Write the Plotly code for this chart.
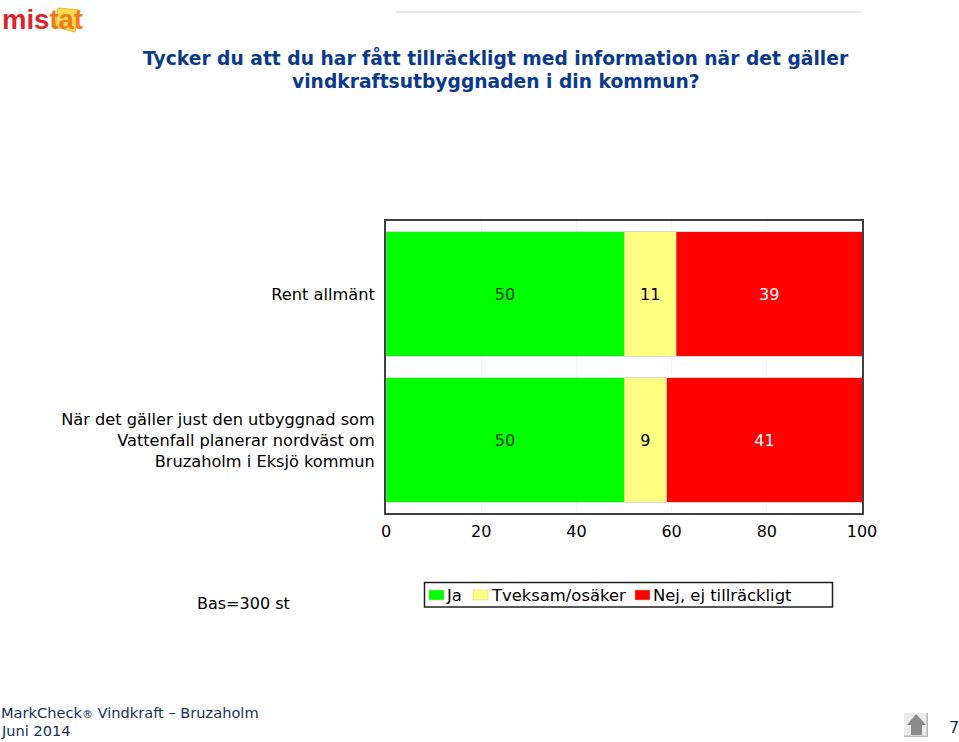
import plotly.graph_objects as go

categories = ["Rent allmänt",
              "När det gäller just den utbyggnad som<br>Vattenfall planerar nordväst om<br>Bruzaholm i Eksjö kommun"]
ja = [50, 50]
tveksam = [11, 9]
nej = [39, 41]
series_names = ["Ja", "Tveksam/osäker", "Nej, ej tillräckligt"]
series_colors = ["#00ff00", "#ffff80", "#ff0000"]
label_colors = ["#0b3d0b", "#000000", "#ffffff"]
tick_vals = [0, 20, 40, 60, 80, 100]
title_lines = ["Tycker du att du har fått tillräckligt med information när det gäller",
               "vindkraftsutbyggnaden i din kommun?"]

W, H = 959, 742
L, R, T, B = 386, 862, 221, 513   # plot-area edges in pixels
FONT = "DejaVu Sans, Verdana, sans-serif"
NAVY = "#16305c"
TITLE = "#0b3a8c"
FS = 16.2
def px(x): return (x - L) / (R - L)
def py(y): return 1 - (y - T) / (B - T)

fig = go.Figure()
for name, vals, col, tc in zip(series_names, [ja, tveksam, nej], series_colors, label_colors):
    fig.add_bar(y=categories, x=vals, name=name, orientation="h",
                marker=dict(color=col, line=dict(color="#b8b8b8", width=0.5)),
                text=vals, textposition="inside", insidetextanchor="middle",
                textangle=0, textfont=dict(size=16, color=tc, family=FONT),
                hoverinfo="skip", showlegend=False)

anns = [
    dict(x=px(496), y=py(58), text=f"<b>{title_lines[0]}</b>", xanchor="center", yanchor="middle",
         font=dict(size=18.7, color=TITLE)),
    dict(x=px(496), y=py(81), text=f"<b>{title_lines[1]}</b>", xanchor="center", yanchor="middle",
         font=dict(size=18.7, color=TITLE)),
    dict(x=px(197), y=py(603), text="Bas=300 st", xanchor="left", yanchor="middle",
         font=dict(size=16, color="#000")),
    dict(x=px(1), y=py(712), text="MarkCheck<span style='font-size:11px'>®</span> Vindkraft – Bruzaholm",
         xanchor="left", yanchor="middle", font=dict(size=14.6, color=NAVY)),
    dict(x=px(1), y=py(730), text="Juni 2014", xanchor="left", yanchor="middle",
         font=dict(size=14.6, color=NAVY)),
    dict(x=px(959), y=py(727), text="7", xanchor="right", yanchor="middle",
         font=dict(size=16, color=NAVY)),
    dict(x=px(2), y=py(19), xanchor="left", yanchor="middle",
         text="<b><span style='color:#d9262e'>mis</span><span style='color:#ee7a1f'>tat</span></b>",
         font=dict(size=27.5, color="#d9262e", family="Liberation Sans Narrow, sans-serif")),
]

def path(points):
    return "M" + "L".join(f"{px(x):.5f},{py(y):.5f}" for x, y in points) + "Z"

shapes = [
    dict(type="line", x0=px(396), x1=px(861), y0=py(12), y1=py(12),
         line=dict(color="#e2e2e2", width=1.5)),
    dict(type="path", layer="below",
         path=path([(58, 8), (80, 10), (75, 32), (55, 27)]),
         fillcolor="#f5dc4a", line=dict(color="#e9b53a", width=1)),
    dict(type="rect", x0=px(904), x1=px(928), y0=py(713), y1=py(737),
         fillcolor="#b8b8b8", line=dict(width=0)),
    dict(type="rect", x0=px(904), x1=px(926.5), y0=py(713), y1=py(735.5),
         fillcolor="#ececec", line=dict(width=0)),
    dict(type="path",
         path=path([(916, 714), (926, 725), (922, 725), (922, 735), (911, 735), (911, 725), (907, 725)]),
         fillcolor="#8a8a8a", line=dict(width=0)),
    # legend box
    dict(type="rect", x0=px(424.5), x1=px(832.5), y0=py(582.5), y1=py(607),
         fillcolor="white", line=dict(color="#202020", width=1.5)),
]
# legend entries, drawn so the compact spacing of the original is kept
for name, col, sx, tx in zip(series_names, series_colors, [429, 473, 635], [446, 491, 653]):
    shapes.append(dict(type="rect", x0=px(sx), x1=px(sx + 15), y0=py(590), y1=py(600),
                       fillcolor=col, line=dict(color="#c8c8a0", width=0.5)))
    anns.append(dict(x=px(tx), y=py(595.5), text=name, xanchor="left", yanchor="middle",
                     font=dict(size=16.4, color="#000")))

for a in anns:
    a.update(xref="paper", yref="paper", showarrow=False, borderpad=0, borderwidth=0)
for s in shapes:
    s.update(xref="paper", yref="paper")

fig.update_layout(
    width=W, height=H, autosize=False,
    margin=dict(l=L, r=W - R, t=T, b=H - B),
    paper_bgcolor="white", plot_bgcolor="white",
    barmode="stack", bargap=0.15,
    font=dict(family=FONT, size=16, color="#000"),
    xaxis=dict(range=[0, 100], tickvals=tick_vals, showgrid=True, gridcolor="#f4f4f4",
               showline=True, mirror=True, linecolor="#404040", linewidth=2, ticks="",
               ticklabelstandoff=3, tickfont=dict(size=16), zeroline=False),
    yaxis=dict(autorange="reversed", showgrid=False, showline=True, mirror=True,
               linecolor="#404040", linewidth=2, ticks="", ticklabelstandoff=6,
               tickfont=dict(size=FS)),
    annotations=anns, shapes=shapes,
)
fig.write_html("out.html", config=dict(displayModeBar=False),
               post_script="document.body.style.margin='0';")
